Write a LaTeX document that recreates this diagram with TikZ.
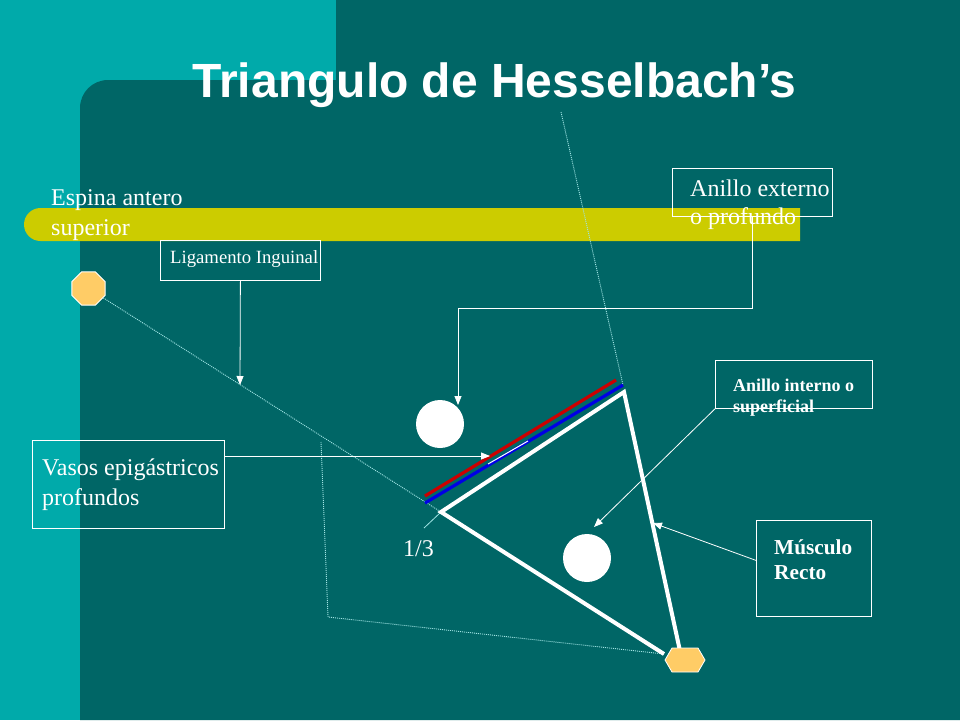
\documentclass[tikz,border=0pt]{standalone}
\usepackage{fontspec}
\setmainfont{Liberation Serif}
\setsansfont{Liberation Sans}
\usepackage{xcolor}
\usepackage{tikz}
\usetikzlibrary{shapes.geometric,arrows.meta,positioning}

\definecolor{tealbg}{RGB}{0,170,170}
\definecolor{tealdark}{RGB}{0,102,102}
\definecolor{barcol}{RGB}{204,204,0}
\definecolor{landcol}{RGB}{255,204,102}
\definecolor{guidecol}{RGB}{160,228,228}

\begin{document}
\begin{tikzpicture}[
    x=1pt, y=-1pt,
    box/.style={rectangle, draw=white, line width=0.8pt, inner sep=0pt, anchor=north west},
    txt/.style={text=white, align=left, inner sep=0pt, anchor=base west, font=\fontsize{24}{29.5}\selectfont},
    small/.style={txt, font=\fontsize{18.7}{22}\selectfont},
    bold/.style={txt, font=\bfseries\fontsize{18}{21}\selectfont},
    hole/.style={circle, fill=white, minimum size=48pt, inner sep=0pt},
    landmark/.style={fill=landcol, draw=white, line width=0.8pt},
    arrow/.style={-{Triangle[length=9pt,width=7pt]}, white, line width=0.8pt},
    guide/.style={guidecol, dash pattern=on 1pt off 1pt, line width=0.9pt},
    side/.style={white, line width=4pt}
]
    % background
    \useasboundingbox (0,0) rectangle (960,720);
    \fill[tealbg] (0,0) rectangle (960,720);
    \fill[tealdark] (336,0) rectangle (960,80);
    \fill[tealdark] (80,720) -- (80,108) .. controls (80,92.5) and (92.5,80) .. (108,80)
        -- (960,80) -- (960,720) -- cycle;
    \fill[barcol] (800,208) -- (40.5,208) .. controls (31.4,208) and (24,215.4) .. (24,224.5)
        .. controls (24,233.6) and (31.4,241) .. (40.5,241) -- (800,241) -- cycle;

    \node[text=white, anchor=base, font=\sffamily\bfseries\fontsize{48}{58}\selectfont] (title) at (494.5,97) {Triangulo de Hesselbach’s};

    \coordinate (vA) at (441,512);
    \coordinate (vB) at (624,392);
    \coordinate (vC) at (680,651);
    \coordinate (vD) at (664,654);
    \coordinate (redA) at (425,496);
    \coordinate (redB) at (616,380);
    \coordinate (blueA) at (425,503);
    \coordinate (blueB) at (623,385);
    \coordinate (gtop) at (561,112);
    \coordinate (g1) at (321,442);
    \coordinate (g2) at (328,617);
    \coordinate (thirdtick) at (424,528);
    \coordinate (tagA) at (488,464);
    \coordinate (tagB) at (528,441);

    \node[landmark, regular polygon, regular polygon sides=8, minimum size=36pt, inner sep=0pt] (spine) at (88.5,288.5) {};

    % dotted guides
    \draw[guide] (spine) -- (vA);
    \draw[guide] (gtop) -- (blueB);
    \draw[guide] (g1) -- (g2) -- (vD);
    \draw[guidecol, line width=0.8pt] (thirdtick) -- (vA);

    % triangle
    \draw[side, line join=miter] (vD) -- (vA) -- (vB) -- (vC);
    \draw[red!80!black, line width=3.2pt] (redA) -- (redB);
    \draw[blue!90!black, line width=3.2pt] (blueA) -- (blueB);
    \draw[white, line width=1pt] (tagA) -- (tagB);

    \node[hole] (holeA) at (440,424) {};
    \node[hole] (holeB) at (587,558) {};
    \filldraw[landmark] (665,660) -- (672,648) -- (698,648) -- (705,660) -- (698,672) -- (672,672) -- cycle;

    % boxes and labels
    \node[box, minimum width=160pt, minimum height=40pt] (ligbox) at (160,240) {};
    \node[box, minimum width=160pt, minimum height=48pt] (extbox) at (672,168) {};
    \node[box, minimum width=157pt, minimum height=48pt] (intbox) at (715,360) {};
    \node[box, minimum width=192pt, minimum height=88pt] (vasbox) at (32,440) {};
    \node[box, minimum width=115pt, minimum height=96pt] (musbox) at (756,520) {};

    \node[txt] (spinetext) at (51,235) {Espina antero\\superior};
    \node[small] (ligtext) at (170,263) {Ligamento Inguinal};
    \node[txt, font=\fontsize{24}{28}\selectfont] (exttext) at (690,224) {Anillo externo\\o profundo};
    \node[bold] (inttext) at (733,412) {Anillo interno o\\superficial};
    \node[txt] (vastext) at (42,505) {Vasos epigástricos\\profundos};
    \node[bold, font=\bfseries\fontsize{21.3}{25}\selectfont] (mustext) at (774,579) {Músculo\\Recto};
    \node[txt] (third) at (403,556) {1/3};

    % arrows
    \coordinate (ligtip) at (240,385);
    \coordinate (extbend) at (458,308);
    \coordinate (exttip) at (458,405);
    \coordinate (inttip) at (594,527);
    \coordinate (vastip) at (490,456);
    \coordinate (mustip) at (653,523);

    \draw[arrow] (ligbox.south) -- (ligtip);
    \draw[arrow] (extbox.south) |- (extbend) -- (exttip);
    \draw[arrow] (intbox.south west) -- (inttip);
    \draw[arrow] (vastip -| vasbox.east) -- (vastip);
    \draw[arrow] ([yshift=8pt]musbox.west) -- (mustip);
\end{tikzpicture}
\end{document}
